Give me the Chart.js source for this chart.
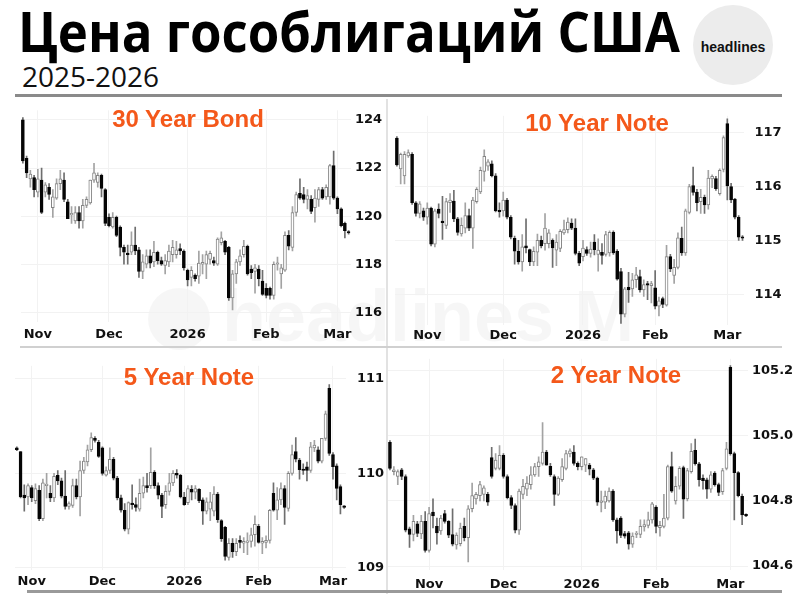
<!DOCTYPE html>
<html>
<head>
<meta charset="utf-8">
<script src="https://cdn.jsdelivr.net/npm/chart.js@4.4.1/dist/chart.umd.min.js"></script>
<style>
    body { margin: 0; background: #fff; }
    #page { position: relative; width: 800px; height: 594px; overflow: hidden; background: #fff; font-family: "Liberation Sans", Arial, sans-serif; }
    .abs { position: absolute; }
    canvas { position: absolute; }
    .fit { white-space: nowrap; transform-origin: 0 0; }
    .ptitle { position: absolute; transform: translate(-50%, -50%); font: bold 24px "Liberation Sans", Arial, sans-serif; color: #f4581a; line-height: 1; white-space: nowrap; }
    .line { position: absolute; }
</style>
</head>
<body>
<div id="page">
    <div id="title" class="abs fit" style="left:18px;top:2px;font:700 56px 'Open Sans';line-height:56px;color:#000;">Цена гособлигаций США</div>
    <div id="sub" class="abs fit" style="left:22px;top:59px;font:400 27px 'Open Sans';line-height:36px;color:#111;">2025-2026</div>
    <div class="abs" style="left:693px;top:5px;width:80px;height:80px;border-radius:50%;background:#ececec;"></div>
    <div class="abs" style="left:733px;top:47px;transform:translate(-50%,-50%);font:bold 14px 'Liberation Sans';color:#111;">headlines</div>

    <!-- faint watermark -->
    <div class="abs" style="left:148px;top:288px;width:62px;height:62px;border-radius:50%;background:rgba(0,0,0,0.035);"></div>
    <div class="abs" style="left:222px;top:280px;font:bold 72px 'Liberation Sans';color:rgba(0,0,0,0.035);line-height:1;">headlines M</div>

    <div class="line" style="left:15px;top:94px;width:767px;height:3px;background:#8a8a8a;"></div>
    <div class="line" style="left:386px;top:99px;width:2px;height:495px;background:#e2e2e2;"></div>
    <div class="line" style="left:20px;top:346px;width:762px;height:2px;background:#d0d0d0;"></div>
    <div class="line" style="left:27px;top:590px;width:755px;height:3px;background:#9a9a9a;"></div>

    <canvas id="c30"></canvas>
    <canvas id="c10"></canvas>
    <canvas id="c5"></canvas>
    <canvas id="c2"></canvas>

    <div class="ptitle" style="left:188px;top:119px;">30 Year Bond</div>
    <div class="ptitle" style="left:597px;top:123px;">10 Year Note</div>
    <div class="ptitle" style="left:189px;top:377px;">5 Year Note</div>
    <div class="ptitle" style="left:616px;top:375px;">2 Year Note</div>
</div>
<script>
// month labels along the bottom of each panel
const monthNames = ['Nov', 'Dec', '2026', 'Feb', 'Mar'];

// candle index where each month label sits
const monthIdx30 = [4, 23, 44, 65, 84];
const monthIdx10 = [8, 28, 49, 68, 87];
const monthIdx5 = [4, 23, 45, 65, 85];
const monthIdx2 = [10, 29, 49, 68, 87];

// y tick labels
const yTicks30 = [116, 118, 120, 122, 124];
const yTicks10 = [114, 115, 116, 117];
const yTicks5 = [109, 110, 111];
const yTicks2 = [104.6, 104.8, 105.0, 105.2];

// daily candles [open, high, low, close]
const bond30 = [
    [124.0, 124.1, 122.2, 122.3], [122.4, 122.5, 121.6, 121.8], [121.55, 121.9, 121.2, 121.75], [121.6, 121.7, 120.8, 121.1],
    [121.0, 121.95, 120.8, 121.55], [121.5, 122.0, 120.1, 120.15], [121.0, 121.4, 120.8, 121.3], [121.2, 121.35, 120.7, 120.9],
    [120.35, 121.1, 119.95, 120.8], [120.75, 121.55, 120.7, 121.35], [121.35, 121.9, 121.1, 121.55], [121.5, 121.8, 120.6, 120.7],
    [120.6, 120.7, 119.9, 119.9], [120.05, 120.4, 119.7, 120.12], [119.8, 120.4, 119.7, 120.15], [120.15, 120.4, 119.5, 119.8],
    [119.8, 120.7, 119.5, 120.45], [120.45, 120.8, 120.35, 120.7], [120.55, 121.5, 120.5, 121.5], [121.5, 122.2, 121.4, 121.8],
    [121.4, 121.8, 121.2, 121.7], [121.7, 121.75, 120.8, 121.15], [121.1, 121.15, 119.6, 119.7], [119.95, 120.1, 119.55, 119.6],
    [119.55, 120.15, 119.5, 119.95], [119.95, 120.0, 119.15, 119.2], [119.55, 119.6, 118.35, 118.7], [118.7, 118.8, 118.0, 118.5],
    [118.45, 118.8, 118.0, 118.4], [118.5, 119.35, 118.4, 118.8], [118.8, 119.55, 118.4, 118.55], [118.6, 118.7, 117.45, 117.7],
    [117.7, 118.4, 117.4, 118.1], [118.0, 118.6, 117.85, 118.35], [118.35, 118.6, 117.85, 118.05], [118.1, 118.95, 117.9, 118.5],
    [118.5, 118.55, 118.0, 118.15], [118.15, 118.3, 117.95, 118.0], [117.95, 118.4, 117.6, 118.15], [118.1, 118.8, 117.9, 118.55],
    [118.4, 119.0, 118.1, 118.7], [118.4, 118.95, 118.25, 118.6], [118.65, 118.85, 118.4, 118.55], [118.55, 118.6, 117.75, 117.85],
    [117.75, 117.8, 117.1, 117.35], [117.45, 117.9, 117.1, 117.75], [117.55, 117.6, 117.3, 117.4], [117.5, 118.55, 117.2, 118.05],
    [118.0, 118.4, 117.6, 118.08], [118.0, 118.55, 117.4, 118.4], [118.2, 118.55, 118.0, 118.45], [118.15, 118.3, 117.95, 118.05],
    [118.0, 119.1, 117.95, 119.05], [118.9, 119.35, 118.8, 119.1], [118.95, 119.0, 118.4, 118.5], [118.7, 118.75, 116.5, 116.6],
    [116.6, 117.75, 116.1, 117.6], [117.6, 118.2, 117.2, 118.1], [118.1, 118.6, 117.95, 118.35], [118.4, 119.0, 118.3, 118.75],
    [118.75, 118.8, 117.55, 117.6], [117.8, 117.95, 117.4, 117.65], [117.7, 118.0, 116.8, 117.85], [117.8, 117.95, 117.1, 117.4],
    [117.3, 117.75, 116.7, 116.75], [117.0, 117.2, 116.6, 116.7], [117.0, 117.05, 116.55, 116.7], [116.7, 118.1, 116.55, 118.0],
    [118.0, 118.3, 117.75, 118.05], [117.6, 118.0, 117.0, 117.85], [117.75, 119.35, 117.7, 119.2], [119.2, 119.4, 118.6, 118.75],
    [118.7, 120.4, 118.55, 120.15], [120.15, 121.0, 120.0, 120.9], [120.95, 121.55, 120.7, 120.75], [120.9, 121.2, 120.55, 120.7],
    [120.7, 121.1, 120.3, 120.85], [120.7, 120.85, 120.1, 120.2], [120.35, 121.1, 119.75, 120.75], [120.7, 121.2, 120.4, 121.1],
    [121.1, 121.2, 120.7, 120.75], [120.8, 121.3, 120.7, 121.2], [120.8, 122.15, 120.5, 122.1], [122.1, 122.7, 120.7, 120.75],
    [120.75, 120.8, 120.1, 120.3], [120.3, 120.35, 119.55, 119.6], [119.7, 119.75, 119.1, 119.4], [119.33, 119.4, 119.25, 119.3]
];

const note10 = [
    [116.9, 116.93, 116.38, 116.4], [116.33, 116.62, 116.05, 116.6], [116.2, 116.65, 116.05, 116.6], [116.57, 116.68, 116.54, 116.63],
    [116.6, 116.63, 115.67, 115.7], [115.7, 115.72, 115.45, 115.5], [115.5, 115.72, 115.42, 115.68], [115.55, 115.6, 115.37, 115.43],
    [115.43, 115.7, 115.3, 115.6], [115.6, 115.62, 114.9, 114.93], [114.93, 115.58, 114.88, 115.55], [115.58, 115.68, 115.42, 115.5],
    [115.35, 115.82, 115.02, 115.33], [115.28, 115.78, 115.22, 115.72], [115.7, 115.87, 115.52, 115.75], [115.73, 115.93, 115.35, 115.4],
    [115.4, 115.43, 115.1, 115.15], [115.12, 115.42, 115.08, 115.28], [115.23, 115.7, 115.14, 115.46], [115.46, 115.58, 115.18, 115.23],
    [115.23, 115.8, 114.85, 115.75], [115.72, 115.98, 115.69, 115.95], [115.9, 116.36, 115.87, 116.3], [116.28, 116.68, 116.1, 116.56],
    [116.38, 116.5, 116.3, 116.46], [116.42, 116.48, 116.18, 116.2], [116.2, 116.24, 115.53, 115.55], [115.56, 115.7, 115.43, 115.53],
    [115.55, 115.9, 115.45, 115.75], [115.75, 115.78, 115.4, 115.43], [115.43, 115.46, 115.03, 115.06], [115.04, 115.08, 114.56, 114.8],
    [114.8, 115.0, 114.56, 114.6], [114.6, 115.11, 114.43, 114.88], [114.9, 115.4, 114.77, 114.86], [114.83, 114.84, 114.53, 114.6],
    [114.6, 114.88, 114.53, 114.8], [114.78, 115.12, 114.53, 115.0], [115.0, 115.08, 114.86, 114.9], [114.94, 115.5, 114.82, 115.23],
    [114.94, 115.2, 114.86, 115.14], [115.0, 115.03, 114.5, 114.86], [114.82, 115.11, 114.53, 114.97], [114.85, 115.2, 114.79, 115.17],
    [115.14, 115.38, 115.11, 115.2], [115.2, 115.42, 115.14, 115.34], [115.32, 115.4, 115.2, 115.23], [115.23, 115.4, 114.73, 114.76],
    [114.76, 114.8, 114.53, 114.58], [114.7, 115.0, 114.62, 114.86], [114.83, 114.88, 114.72, 114.76], [114.76, 114.97, 114.69, 114.84],
    [114.97, 115.11, 114.73, 114.83], [114.74, 115.03, 114.43, 114.82], [114.78, 114.94, 114.56, 114.72], [114.74, 115.17, 114.71, 115.11],
    [114.77, 115.18, 114.71, 115.15], [115.15, 115.18, 114.74, 114.77], [114.8, 114.83, 114.26, 114.28], [114.42, 114.48, 113.46, 113.63],
    [113.63, 114.13, 113.58, 114.1], [114.13, 114.41, 113.85, 114.08], [114.1, 114.39, 113.96, 114.27], [114.27, 114.5, 114.13, 114.36],
    [114.33, 114.45, 114.04, 114.08], [114.08, 114.27, 113.96, 114.18], [114.19, 114.24, 113.9, 114.17], [114.16, 114.24, 113.84, 114.2],
    [114.12, 114.44, 113.73, 113.78], [113.78, 113.95, 113.6, 113.88], [113.92, 113.95, 113.75, 113.81], [113.8, 114.91, 113.78, 114.7],
    [114.7, 114.74, 114.42, 114.47], [114.35, 114.65, 114.2, 114.5], [114.5, 115.14, 114.47, 115.05], [115.04, 115.25, 114.72, 114.77],
    [114.77, 115.58, 114.72, 115.55], [115.52, 116.04, 115.49, 116.0], [116.02, 116.36, 115.84, 115.89], [115.9, 115.95, 115.55, 115.7],
    [115.72, 115.95, 115.5, 115.8], [115.8, 115.84, 115.5, 115.66], [115.66, 116.3, 115.58, 116.16], [116.14, 116.22, 115.98, 116.19],
    [116.15, 116.19, 115.93, 115.96], [115.87, 116.33, 115.84, 116.3], [116.32, 116.94, 116.27, 116.91], [117.17, 117.26, 115.75, 116.01],
    [116.0, 116.06, 115.7, 115.75], [115.77, 115.78, 115.4, 115.43], [115.43, 115.46, 115.0, 115.06], [115.05, 115.09, 115.0, 115.04]
];

const note5 = [
    [110.27, 110.28, 110.24, 110.25], [110.23, 110.23, 109.74, 109.75], [109.77, 109.88, 109.6, 109.74], [109.75, 109.89, 109.67, 109.87],
    [109.85, 109.87, 109.7, 109.74], [109.71, 109.89, 109.68, 109.84], [109.82, 109.87, 109.5, 109.52], [109.52, 109.94, 109.5, 109.9],
    [109.87, 110.0, 109.74, 109.88], [109.79, 109.87, 109.7, 109.74], [109.74, 110.0, 109.7, 109.97], [109.98, 110.03, 109.88, 109.92],
    [109.92, 109.95, 109.74, 109.76], [109.76, 110.03, 109.62, 109.65], [109.65, 109.7, 109.62, 109.68], [109.66, 109.94, 109.64, 109.87],
    [109.87, 109.94, 109.73, 109.75], [109.75, 110.13, 109.55, 110.03], [110.03, 110.17, 110.0, 110.13], [110.12, 110.3, 110.08, 110.25],
    [110.25, 110.43, 110.23, 110.38], [110.37, 110.39, 110.33, 110.35], [110.33, 110.35, 110.17, 110.18], [110.27, 110.28, 109.98, 110.0],
    [109.98, 110.07, 109.97, 110.03], [110.03, 110.27, 110.0, 110.15], [110.15, 110.17, 109.93, 109.95], [109.95, 109.97, 109.72, 109.74],
    [109.74, 109.77, 109.59, 109.61], [109.61, 109.68, 109.39, 109.41], [109.41, 109.7, 109.36, 109.69], [109.68, 109.88, 109.62, 109.67],
    [109.67, 109.74, 109.6, 109.64], [109.62, 109.94, 109.6, 109.79], [109.79, 109.96, 109.74, 109.87], [109.87, 110.0, 109.8, 109.85],
    [109.87, 110.27, 109.84, 110.01], [110.01, 110.03, 109.84, 109.87], [109.87, 109.9, 109.73, 109.77], [109.77, 109.79, 109.53, 109.65],
    [109.67, 109.87, 109.63, 109.81], [109.81, 110.0, 109.77, 109.9], [109.9, 110.03, 109.87, 110.0], [110.0, 110.04, 109.95, 109.98],
    [109.98, 109.99, 109.74, 109.75], [109.75, 109.8, 109.66, 109.67], [109.69, 109.87, 109.67, 109.84], [109.83, 109.87, 109.72, 109.8],
    [109.8, 109.87, 109.73, 109.84], [109.83, 109.84, 109.69, 109.71], [109.72, 109.74, 109.46, 109.6], [109.6, 109.74, 109.57, 109.7],
    [109.62, 109.8, 109.5, 109.7], [109.6, 109.86, 109.55, 109.78], [109.78, 109.8, 109.48, 109.51], [109.5, 109.51, 109.28, 109.31],
    [109.43, 109.44, 109.08, 109.12], [109.11, 109.31, 109.08, 109.26], [109.26, 109.31, 109.11, 109.17], [109.17, 109.31, 109.13, 109.26],
    [109.29, 109.34, 109.21, 109.27], [109.26, 109.32, 109.16, 109.28], [109.27, 109.37, 109.14, 109.28], [109.28, 109.42, 109.22, 109.35],
    [109.35, 109.55, 109.23, 109.46], [109.44, 109.46, 109.26, 109.27], [109.26, 109.32, 109.15, 109.28], [109.27, 109.34, 109.21, 109.29],
    [109.29, 109.62, 109.26, 109.61], [109.79, 109.9, 109.6, 109.61], [109.61, 109.85, 109.51, 109.72], [109.72, 109.9, 109.67, 109.84],
    [109.84, 109.87, 109.46, 109.64], [109.63, 110.02, 109.6, 110.0], [110.0, 110.3, 109.98, 110.2], [110.23, 110.38, 110.12, 110.15],
    [110.14, 110.16, 109.94, 110.04], [110.04, 110.1, 109.99, 110.03], [110.07, 110.12, 109.92, 110.03], [110.03, 110.33, 110.01, 110.28],
    [110.27, 110.35, 110.23, 110.3], [110.25, 110.28, 110.11, 110.13], [110.13, 110.37, 110.11, 110.37], [110.37, 110.66, 110.35, 110.63],
    [110.9, 110.94, 110.19, 110.21], [110.2, 110.22, 109.94, 110.07], [110.08, 110.1, 109.72, 109.84], [109.86, 109.88, 109.57, 109.67],
    [109.65, 109.66, 109.63, 109.64]
];

const note2 = [
    [104.98, 104.985, 104.895, 104.9], [104.89, 104.905, 104.88, 104.895], [104.875, 104.895, 104.85, 104.89], [104.895, 104.9, 104.865, 104.875],
    [104.875, 104.88, 104.705, 104.71], [104.714, 104.72, 104.657, 104.697], [104.697, 104.756, 104.677, 104.737], [104.73, 104.737, 104.69, 104.7],
    [104.699, 104.756, 104.684, 104.737], [104.737, 104.767, 104.643, 104.648], [104.648, 104.78, 104.643, 104.761], [104.766, 104.806, 104.717, 104.754],
    [104.722, 104.747, 104.667, 104.702], [104.708, 104.756, 104.697, 104.747], [104.761, 104.771, 104.732, 104.737], [104.737, 104.74, 104.687, 104.695],
    [104.697, 104.776, 104.662, 104.667], [104.665, 104.702, 104.652, 104.695], [104.669, 104.732, 104.662, 104.717], [104.722, 104.747, 104.677, 104.687],
    [104.687, 104.786, 104.613, 104.776], [104.776, 104.855, 104.766, 104.816], [104.806, 104.826, 104.79, 104.82], [104.816, 104.86, 104.8, 104.85],
    [104.82, 104.846, 104.8, 104.84], [104.82, 104.826, 104.786, 104.796], [104.933, 104.964, 104.87, 104.875], [104.9, 104.945, 104.895, 104.925],
    [104.9, 104.97, 104.895, 104.94], [104.94, 104.945, 104.87, 104.875], [104.875, 104.88, 104.806, 104.81], [104.81, 104.816, 104.776, 104.786],
    [104.786, 104.791, 104.702, 104.71], [104.71, 104.836, 104.697, 104.83], [104.82, 104.866, 104.806, 104.845], [104.836, 104.875, 104.816, 104.855],
    [104.85, 104.905, 104.836, 104.88], [104.88, 104.915, 104.875, 104.905], [104.905, 104.935, 104.875, 104.92], [104.915, 105.04, 104.91, 104.95],
    [104.95, 104.955, 104.91, 104.91], [104.906, 104.915, 104.875, 104.88], [104.875, 104.88, 104.786, 104.82], [104.82, 104.875, 104.816, 104.87],
    [104.865, 104.93, 104.86, 104.905], [104.9, 104.955, 104.895, 104.945], [104.944, 104.96, 104.935, 104.954], [104.95, 104.97, 104.91, 104.915],
    [104.915, 104.92, 104.895, 104.905], [104.905, 104.935, 104.895, 104.935], [104.91, 104.93, 104.89, 104.93], [104.91, 104.915, 104.88, 104.897],
    [104.895, 104.9, 104.865, 104.87], [104.87, 104.873, 104.786, 104.796], [104.795, 104.83, 104.766, 104.8], [104.796, 104.83, 104.776, 104.815],
    [104.8, 104.84, 104.796, 104.83], [104.83, 104.835, 104.737, 104.742], [104.742, 104.747, 104.67, 104.708], [104.747, 104.752, 104.687, 104.694],
    [104.7, 104.707, 104.686, 104.692], [104.702, 104.707, 104.652, 104.667], [104.667, 104.702, 104.657, 104.692], [104.697, 104.707, 104.687, 104.699],
    [104.697, 104.742, 104.687, 104.722], [104.72, 104.742, 104.707, 104.727], [104.725, 104.766, 104.717, 104.742], [104.742, 104.796, 104.732, 104.791],
    [104.781, 104.786, 104.702, 104.722], [104.718, 104.737, 104.692, 104.725], [104.722, 104.82, 104.717, 104.747], [104.747, 104.91, 104.742, 104.905],
    [104.905, 104.95, 104.826, 104.83], [104.8, 104.875, 104.79, 104.845], [104.845, 104.905, 104.836, 104.9], [104.902, 104.907, 104.746, 104.805],
    [104.806, 104.9, 104.8, 104.893], [104.89, 104.976, 104.885, 104.952], [104.955, 104.99, 104.91, 104.914], [104.914, 104.918, 104.845, 104.865],
    [104.87, 104.88, 104.836, 104.862], [104.865, 104.87, 104.808, 104.836], [104.836, 104.89, 104.826, 104.88], [104.885, 104.89, 104.845, 104.85],
    [104.85, 104.855, 104.816, 104.826], [104.828, 104.9, 104.82, 104.893], [104.9, 104.98, 104.895, 104.96], [105.21, 105.215, 104.94, 104.945],
    [104.945, 104.95, 104.742, 104.887], [104.887, 104.89, 104.812, 104.816], [104.814, 104.821, 104.727, 104.757], [104.759, 104.76, 104.752, 104.754]
];

// squeeze the big headings to the width they take in the picture
function fitWidth(id, w) {
    const el = document.getElementById(id);
    el.style.transform = 'scaleX(' + (w / el.getBoundingClientRect().width) + ')';
}
fitWidth('title', 662);
fitWidth('sub', 137);

const tickFont = { family: "'DejaVu Sans', sans-serif", size: 13, weight: 'bold' };

function candleChart(id, rows, monthIdx, yTicks, yMin, yMax, box) {
    const cv = document.getElementById(id);
    cv.style.left = box.x + 'px';
    cv.style.top = box.y + 'px';
    cv.width = box.w;
    cv.height = box.h;

    const up = rows.map(r => r[3] >= r[0]);
    return new Chart(cv, {
        type: 'bar',
        data: {
            labels: rows.map((r, i) => i),
            datasets: [
                {
                    // body
                    data: rows.map(r => [r[0], r[3]]),
                    backgroundColor: up.map(u => u ? '#ffffff' : '#050505'),
                    borderColor: up.map(u => u ? '#858585' : '#050505'),
                    borderWidth: 1,
                    borderSkipped: false,
                    barThickness: 3,
                    minBarLength: 1.5,
                    grouped: false,
                    order: 1
                },
                {
                    // wick
                    data: rows.map(r => [r[2], r[1]]),
                    backgroundColor: up.map(u => u ? '#a3a3a3' : '#6e6e6e'),
                    borderWidth: 0,
                    barThickness: 1,
                    grouped: false,
                    order: 2
                }
            ]
        },
        options: {
            responsive: false,
            animation: false,
            devicePixelRatio: 1,
            layout: { padding: { left: box.padL, top: box.padT, right: 0, bottom: 0 } },
            plugins: { legend: { display: false }, tooltip: { enabled: false } },
            scales: {
                x: {
                    offset: true,
                    grid: { display: true, drawTicks: false, offset: false, color: '#f2f2f2' },
                    border: { display: false },
                    ticks: {
                        autoSkip: false,
                        maxRotation: 0,
                        padding: box.xPad,
                        color: '#111',
                        font: tickFont,
                        callback: (v, i) => {
                            const k = monthIdx.indexOf(i);
                            return k >= 0 ? monthNames[k] : null;
                        }
                    },
                    afterFit: s => { s.height = box.xH; }
                },
                y: {
                    position: 'right',
                    min: yMin,
                    max: yMax,
                    grid: { display: true, drawTicks: false, color: '#f2f2f2' },
                    border: { display: false },
                    ticks: {
                        padding: box.yPad,
                        color: '#111',
                        font: tickFont,
                        callback: v => box.dec ? v.toFixed(box.dec) : v
                    },
                    afterBuildTicks: s => { s.ticks = yTicks.map(v => ({ value: v })); },
                    afterFit: s => { s.width = box.yW; }
                }
            }
        }
    });
}

candleChart('c30', bond30, monthIdx30, yTicks30, 115.6, 124.4,
    { x: 0, y: 98, w: 390, h: 247, padL: 21, padT: 4, xH: 23, yW: 39.5, xPad: 4.5, yPad: 4.5, dec: 0 });
candleChart('c10', note10, monthIdx10, yTicks10, 113.43, 117.314,
    { x: 390, y: 98, w: 410, h: 247, padL: 5, padT: 4, xH: 20, yW: 55.6, xPad: 2.5, yPad: 10, dec: 0 });
candleChart('c5', note5, monthIdx5, yTicks5, 108.977, 111.139,
    { x: 0, y: 347, w: 388, h: 245, padL: 15, padT: 5, xH: 22, yW: 42, xPad: 3.5, yPad: 11, dec: 0 });
candleChart('c2', note2, monthIdx2, yTicks2, 104.588, 105.236,
    { x: 388, y: 347, w: 412, h: 245, padL: 0, padT: 5, xH: 22, yW: 52, xPad: 6.5, yPad: 4, dec: 1 });
</script>
</body>
</html>
